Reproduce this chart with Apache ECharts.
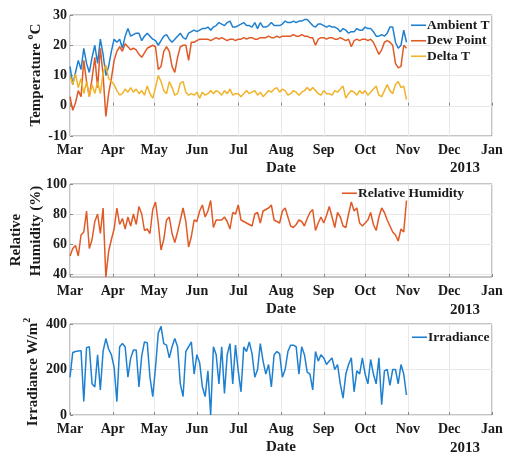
<!DOCTYPE html>
<html>
<head>
<meta charset="utf-8">
<script src="https://cdn.jsdelivr.net/npm/echarts@6/dist/echarts.min.js"></script>
<style>html,body{margin:0;padding:0;background:#fff;}#c{width:506px;height:456px;}</style>
</head>
<body>
<div id="c"></div>
<script>
// Sampling: one value every 2 days starting 2013-03-01
const startDate = [2013, 2, 1];
const stepDays = 2;

const monthTicks = ['2013-03-01','2013-04-01','2013-05-01','2013-06-01','2013-07-01','2013-08-01','2013-09-01','2013-10-01','2013-11-01','2013-12-01','2014-01-01'];
const monthLabels = ['Mar','Apr','May','Jun','Jul','Aug','Sep','Oct','Nov','Dec','Jan'];
const yearLabel = '2013';

const tempTicks = [-10, 0, 10, 20, 30];
const rhTicks = [40, 60, 80, 100];
const irrTicks = [0, 200, 400];

const ambientT = [
 13, 7, 11, 15, 12, 19, 14, 11, 16, 20,
 14, 22, 17, 10, 13, 18, 22, 21, 22, 19,
 23, 25.5, 23, 23.5, 24, 24, 21.5, 23, 24, 23,
 22, 21.5, 20, 21.5, 23, 23.5, 22, 21, 22, 23,
 24, 22.5, 22, 24, 24.5, 25, 24.5, 25, 25.5, 25.5,
 26, 25, 26, 26.5, 27.5, 27, 26.5, 27.5, 28, 26,
 26, 26.5, 27, 27.5, 26.5, 26.5, 26, 27.5, 25.5, 27.5,
 26, 26, 26.5, 27.5, 26.5, 26.5, 26.5, 27, 28, 27.5,
 27.5, 28, 27.5, 28, 28, 28.5, 28.5, 27.5, 26.5, 26,
 27, 27, 26.5, 26, 26.5, 26, 26, 25.5, 24.5, 25.5,
 25, 24, 24.5, 24.5, 25.5, 25, 25, 26, 25.5, 25.5,
 24.5, 23, 23, 23.5, 23, 24, 26, 26, 21, 19,
 20, 25, 21
];
const dewPoint = [
 3, -1.5, 1, 5, 3, 15, 8, 3, 9, 16,
 6, 19, 10, -3.5, 4, 9, 15, 18, 19.5, 18,
 20.5, 19.5, 18.5, 19, 18.5, 17, 16, 17.5, 19, 19.5,
 20, 19.5, 12, 13, 18, 19.5, 18, 13, 11, 16,
 19.5, 20, 20, 15, 21, 21, 21.5, 22, 22, 22,
 22, 21.5, 22, 22.5, 22, 22.5, 22, 21.5, 22, 22,
 21.5, 22, 22, 22.5, 22, 22.5, 22.5, 22, 22, 22.5,
 22.5, 22.5, 23, 22.5, 22.5, 23, 22.5, 23, 23, 23,
 23, 23.5, 23, 23, 23.5, 23, 23, 22.5, 22.5, 20,
 22, 22.5, 22.5, 22, 22.5, 22.5, 22, 22, 22.5, 22,
 21.5, 22, 19.5, 21.5, 22, 21.5, 22, 22, 21.5, 22,
 21, 19, 17, 18.5, 21, 21.5, 21, 20, 14, 12.5,
 13, 20, 19
];
const deltaT = [
 10, 7, 10.5, 6, 9, 4, 8, 3, 7, 4,
 8, 4, 11, 13.5, 9, 8, 7, 5, 3.5, 4,
 5.5, 4.5, 6, 4.5, 5.5, 4, 5, 3.5, 6.5, 4,
 2.5, 6, 10, 8, 5, 4, 8, 6, 3.5, 4,
 7.5, 8, 4.5, 3.5, 4, 3.5, 4.5, 2.5, 4.5, 3.5,
 4, 5, 4, 5, 4.5, 3.5, 5, 4, 5.5, 3.5,
 4, 4, 3, 4, 5, 4, 4.5, 5, 3.5, 4.5,
 3, 4, 5, 4.5, 5.5, 6, 4.5, 5.5, 5, 3.5,
 4, 5, 4.5, 3.5, 4.5, 5, 6, 5, 6, 5,
 4, 3.5, 5, 4, 4, 3.5, 5, 4.5, 5.5, 6.5,
 2.5, 4, 5, 4.5, 3.5, 5, 4, 5, 3.5, 4.5,
 5.5, 6.5, 3.5, 3, 5, 7, 5, 4, 7, 8,
 6, 6.5, 2
];
const relHumidity = [
 52, 57, 59, 52, 66, 68, 82, 57, 63, 75,
 80, 67, 84, 38, 55, 63, 70, 84, 73, 77,
 70, 78, 72, 80, 73, 85, 80, 69, 70, 67,
 83, 88, 74, 56, 63, 76, 78, 67, 61, 68,
 76, 84, 75, 58, 65, 76, 75, 82, 86, 78,
 82, 89, 71, 76, 76, 76, 78, 75, 70, 81,
 80, 86, 76, 75, 74, 73, 72, 80, 81, 74,
 82, 83, 84, 86, 76, 75, 74, 82, 84, 78,
 72, 71, 73, 76, 75, 72, 77, 81, 83, 69,
 74, 78, 74, 79, 85, 78, 71, 81, 78, 72,
 71, 80, 88, 82, 84, 74, 72, 74, 76, 81,
 73, 69, 78, 84, 81, 76, 72, 68, 66, 62,
 70, 68, 89
];
const irradiance = [
 166, 275, 279, 281, 283, 59, 296, 300, 137, 123,
 265, 110, 280, 336, 290, 265, 210, 59, 300, 314,
 300, 166, 250, 286, 286, 123, 260, 321, 318, 166,
 81, 209, 360, 390, 314, 307, 251, 300, 336, 300,
 137, 81, 280, 300, 321, 180, 265, 230, 123, 81,
 194, 0, 300, 265, 137, 300, 95, 265, 314, 137,
 307, 194, 102, 300, 279, 321, 270, 166, 200, 314,
 237, 180, 222, 123, 265, 279, 270, 166, 200, 279,
 307, 307, 300, 180, 300, 265, 188, 180, 110, 279,
 237, 265, 251, 222, 237, 251, 200, 222, 137, 74,
 180, 222, 251, 102, 194, 180, 251, 180, 137, 244,
 180, 137, 251, 45, 194, 200, 130, 200, 200, 137,
 222, 180, 88
];

const DAY = 86400000;
const t0 = Date.UTC(startDate[0], startDate[1], startDate[2]);
const ts = s => { const p = s.split('-').map(Number); return Date.UTC(p[0], p[1]-1, p[2]); };
const tickTs = monthTicks.map(ts);
const pairs = vals => vals.map((v, i) => [t0 + i * stepDays * DAY, v]);

const FONT = '"Liberation Serif", "Times New Roman", serif';
const C_BLUE = '#1f80d0', C_RED = '#e05a26', C_YEL = '#f0b32a';
const GRID_LINE = '#e8e8e8', BORDER = '#8a8a8a', TXT = '#1a1a1a';

function xAxisFor(gi) {
  return {
    type: 'value', gridIndex: gi, min: tickTs[0], max: tickTs[tickTs.length - 1],
    name: 'Date', nameLocation: 'middle', nameGap: 25,
    nameTextStyle: { fontFamily: FONT, fontWeight: 'bold', fontSize: 15, color: TXT },
    axisLine: { show: false },
    axisTick: { show: true, inside: true, length: 3, customValues: tickTs, lineStyle: { color: BORDER } },
    axisLabel: { customValues: tickTs, margin: 7, fontFamily: FONT, fontWeight: 'bold', fontSize: 14, color: TXT,
      formatter: v => monthLabels[tickTs.indexOf(v)] },
    splitLine: { show: true, lineStyle: { color: GRID_LINE, width: 1 } }
  };
}
function yAxisFor(gi, min, max, ticks) {
  return {
    type: 'value', gridIndex: gi, min: min, max: max,
    axisLine: { show: false },
    axisTick: { show: true, inside: true, length: 3, customValues: ticks, lineStyle: { color: BORDER } },
    axisLabel: { customValues: ticks, margin: 3, fontFamily: FONT, fontWeight: 'bold', fontSize: 14, color: TXT },
    splitLine: { show: true, lineStyle: { color: GRID_LINE, width: 1 } }
  };
}
const legendText = { fontFamily: FONT, fontWeight: 'bold', fontSize: 13.5, color: TXT, lineHeight: 15.5, padding: [0, 0, 0, -4] };
function legendFor(names, left, top) {
  return { data: names, orient: 'vertical', left: left, top: top, padding: 0, icon: 'rect',
    itemWidth: 15, itemHeight: 1.6, itemGap: 0, textStyle: legendText };
}
function lineSeries(name, data, color, xi) {
  return { name: name, type: 'line', xAxisIndex: xi, yAxisIndex: xi, data: pairs(data),
    symbol: 'none', lineStyle: { color: color, width: 1.5 }, itemStyle: { color: color } };
}
const titleFont = { fontFamily: FONT, fontWeight: 'bold', fontSize: 15, fill: TXT };
const supRich = {
  a: { fontFamily: FONT, fontWeight: 'bold', fontSize: 15, lineHeight: 22, fill: TXT },
  s: { fontFamily: FONT, fontWeight: 'bold', fontSize: 10, lineHeight: 10, verticalAlign: 'top', fill: TXT }
};

const option = {
  animation: false,
  backgroundColor: '#fff',
  grid: [
    { left: 70, top: 15, width: 422, height: 121, show: true, borderColor: BORDER, borderWidth: 1, backgroundColor: '#fff' },
    { left: 70, top: 184, width: 422, height: 93, show: true, borderColor: BORDER, borderWidth: 1, backgroundColor: '#fff' },
    { left: 70, top: 324, width: 422, height: 95, show: true, borderColor: BORDER, borderWidth: 1, backgroundColor: '#fff' }
  ],
  xAxis: [xAxisFor(0), xAxisFor(1), xAxisFor(2)],
  yAxis: [yAxisFor(0, -10, 30, tempTicks), yAxisFor(1, 38, 100, rhTicks), yAxisFor(2, 0, 400, irrTicks)],
  legend: [
    legendFor(['Ambient T', 'Dew Point', 'Delta T'], 411, 17.5),
    legendFor(['Relative Humidity'], 342, 185.5),
    legendFor(['Irradiance'], 412, 329.5)
  ],
  series: [
    lineSeries('Ambient T', ambientT, C_BLUE, 0),
    lineSeries('Dew Point', dewPoint, C_RED, 0),
    lineSeries('Delta T', deltaT, C_YEL, 0),
    lineSeries('Relative Humidity', relHumidity, C_RED, 1),
    lineSeries('Irradiance', irradiance, C_BLUE, 2)
  ],
  graphic: [
    { type: 'text', x: 36, y: 75, rotation: Math.PI / 2,
      style: { text: '{a|Temperature }{s|o}{a|C}', align: 'center', verticalAlign: 'middle', rich: supRich } },
    { type: 'text', x: 16, y: 240, rotation: Math.PI / 2,
      style: Object.assign({ text: 'Relative', align: 'center', verticalAlign: 'middle' }, titleFont) },
    { type: 'text', x: 36, y: 231, rotation: Math.PI / 2,
      style: Object.assign({ text: 'Humidity (%)', align: 'center', verticalAlign: 'middle' }, titleFont) },
    { type: 'text', x: 33, y: 372, rotation: Math.PI / 2,
      style: { text: '{a|Irradiance W/m}{s|2}', align: 'center', verticalAlign: 'middle', rich: supRich } },
    { type: 'text', x: 465, y: 168, style: Object.assign({ text: yearLabel, align: 'center', verticalAlign: 'middle' }, titleFont) },
    { type: 'text', x: 465, y: 310, style: Object.assign({ text: yearLabel, align: 'center', verticalAlign: 'middle' }, titleFont) },
    { type: 'text', x: 465, y: 448, style: Object.assign({ text: yearLabel, align: 'center', verticalAlign: 'middle' }, titleFont) }
  ]
};
echarts.init(document.getElementById('c'), null, { renderer: 'canvas' }).setOption(option);
</script>
</body>
</html>
